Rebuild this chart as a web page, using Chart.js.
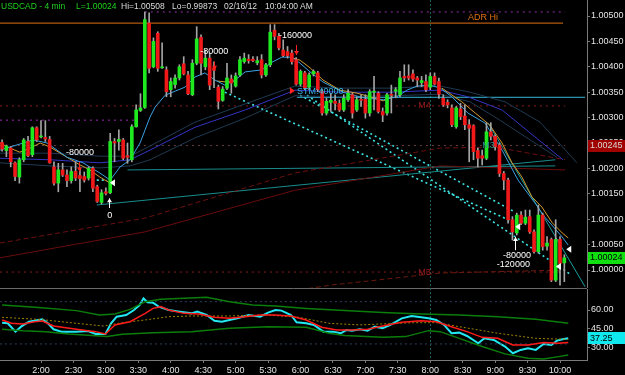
<!DOCTYPE html>
<html>
<head>
<meta charset="utf-8">
<script src="https://cdn.jsdelivr.net/npm/chart.js@4.4.1/dist/chart.umd.min.js"></script>
<style>
  html, body { margin: 0; padding: 0; background: #000; }
  #wrap { position: relative; width: 625px; height: 375px; overflow: hidden; background: #000; }
  canvas { position: absolute; left: 0; }
  #priceCv { top: 0; }
  #oscCv { top: 288px; }
  .hd { position: absolute; top: 1px; font: 8.5px Arial, "Liberation Sans", sans-serif; line-height: 10px;
        color: #dcdcdc; white-space: nowrap; z-index: 2; }
  .hd.g { color: #1fd31f; }
</style>
</head>
<body>
<div id="wrap">
  <canvas id="priceCv" width="625" height="288"></canvas>
  <canvas id="oscCv" width="625" height="87"></canvas>
  <div class="hd g" style="left:1px">USDCAD - 4 min</div>
  <div class="hd g" style="left:76px">L=1.00024</div>
  <div class="hd" style="left:121px">Hi=1.00508</div>
  <div class="hd" style="left:172px">Lo=0.99873</div>
  <div class="hd" style="left:224px">02/16/12</div>
  <div class="hd" style="left:265px">10:04:00 AM</div>
</div>
<script>
// bars are 4 minutes, first one at 1:24
const firstBar = '1:24';
const barMinutes = 4;
const xMin = -0.48, xMax = 135.24;   // visible range in bar units
const timeLabels = ['2:00', '2:30', '3:00', '3:30', '4:00', '4:30', '5:00', '5:30', '6:00',
                    '6:30', '7:00', '7:30', '8:00', '8:30', '9:00', '9:30', '10:00'];
const sessionMark = '8:00';
const priceTicks = [1.00000, 1.00050, 1.00100, 1.00150, 1.00200, 1.00250, 1.00300, 1.00350, 1.00400, 1.00450, 1.00500];
const oscTicks = [30, 45, 60];

const opens = [
  1.00251, 1.00235, 1.00240, 1.00211, 1.00183, 1.00217, 1.00253, 1.00227, 1.00280, 1.00262,
  1.00261, 1.00257, 1.00203, 1.00171, 1.00197, 1.00187, 1.00176, 1.00194, 1.00186, 1.00184,
  1.00181, 1.00200, 1.00164, 1.00133, 1.00154, 1.00152, 1.00253, 1.00253, 1.00256, 1.00225,
  1.00217, 1.00282, 1.00314, 1.00320, 1.00486, 1.00400, 1.00466, 1.00398, 1.00394, 1.00355,
  1.00365, 1.00378, 1.00406, 1.00384, 1.00345, 1.00407, 1.00458, 1.00400, 1.00417, 1.00398,
  1.00360, 1.00334, 1.00358, 1.00376, 1.00362, 1.00384, 1.00410, 1.00415, 1.00415, 1.00408,
  1.00414, 1.00384, 1.00404, 1.00472, 1.00460, 1.00433, 1.00430, 1.00427, 1.00414, 1.00366,
  1.00388, 1.00360, 1.00386, 1.00388, 1.00351, 1.00309, 1.00330, 1.00332, 1.00328, 1.00315,
  1.00335, 1.00345, 1.00315, 1.00336, 1.00336, 1.00309, 1.00350, 1.00348, 1.00312, 1.00309,
  1.00345, 1.00352, 1.00345, 1.00381, 1.00382, 1.00386, 1.00378, 1.00369, 1.00371, 1.00360,
  1.00381, 1.00371, 1.00338, 1.00330, 1.00319, 1.00282, 1.00317, 1.00303, 1.00286, 1.00284,
  1.00235, 1.00225, 1.00220, 1.00272, 1.00263, 1.00246, 1.00190, 1.00177, 1.00099, 1.00073,
  1.00108, 1.00092, 1.00105, 1.00075, 1.00036, 1.00108, 1.00047, 1.00060, 0.99980, 1.00060,
  1.00014];
const highs = [
  1.00256, 1.00246, 1.00243, 1.00213, 1.00221, 1.00259, 1.00263, 1.00282, 1.00282, 1.00294,
  1.00294, 1.00263, 1.00213, 1.00210, 1.00210, 1.00197, 1.00203, 1.00213, 1.00201, 1.00193,
  1.00203, 1.00203, 1.00167, 1.00158, 1.00162, 1.00269, 1.00259, 1.00276, 1.00259, 1.00250,
  1.00286, 1.00325, 1.00347, 1.00508, 1.00506, 1.00457, 1.00469, 1.00447, 1.00400, 1.00378,
  1.00384, 1.00404, 1.00420, 1.00391, 1.00414, 1.00479, 1.00463, 1.00433, 1.00427, 1.00410,
  1.00364, 1.00361, 1.00407, 1.00384, 1.00388, 1.00420, 1.00427, 1.00424, 1.00420, 1.00420,
  1.00424, 1.00407, 1.00483, 1.00483, 1.00466, 1.00453, 1.00440, 1.00433, 1.00418, 1.00394,
  1.00391, 1.00388, 1.00394, 1.00391, 1.00355, 1.00338, 1.00348, 1.00345, 1.00335, 1.00345,
  1.00355, 1.00348, 1.00341, 1.00345, 1.00345, 1.00355, 1.00381, 1.00351, 1.00319, 1.00348,
  1.00364, 1.00359, 1.00391, 1.00404, 1.00404, 1.00394, 1.00381, 1.00381, 1.00384, 1.00388,
  1.00388, 1.00378, 1.00345, 1.00335, 1.00325, 1.00322, 1.00328, 1.00325, 1.00296, 1.00286,
  1.00240, 1.00236, 1.00290, 1.00290, 1.00266, 1.00250, 1.00194, 1.00181, 1.00105, 1.00112,
  1.00115, 1.00118, 1.00118, 1.00079, 1.00128, 1.00112, 1.00066, 1.00063, 1.00099, 1.00066,
  1.00030];
const lows = [
  1.00234, 1.00223, 1.00203, 1.00176, 1.00171, 1.00213, 1.00223, 1.00223, 1.00253, 1.00260,
  1.00253, 1.00210, 1.00167, 1.00154, 1.00184, 1.00164, 1.00171, 1.00176, 1.00154, 1.00173,
  1.00177, 1.00154, 1.00133, 1.00130, 1.00148, 1.00150, 1.00213, 1.00236, 1.00217, 1.00210,
  1.00213, 1.00281, 1.00312, 1.00318, 1.00388, 1.00398, 1.00391, 1.00397, 1.00341, 1.00341,
  1.00358, 1.00374, 1.00384, 1.00345, 1.00343, 1.00404, 1.00384, 1.00394, 1.00355, 1.00359,
  1.00317, 1.00332, 1.00355, 1.00348, 1.00360, 1.00381, 1.00407, 1.00407, 1.00410, 1.00404,
  1.00378, 1.00381, 1.00400, 1.00453, 1.00433, 1.00420, 1.00417, 1.00405, 1.00364, 1.00362,
  1.00355, 1.00355, 1.00382, 1.00351, 1.00305, 1.00305, 1.00312, 1.00315, 1.00312, 1.00312,
  1.00332, 1.00299, 1.00312, 1.00322, 1.00299, 1.00303, 1.00315, 1.00309, 1.00292, 1.00305,
  1.00309, 1.00339, 1.00341, 1.00371, 1.00374, 1.00371, 1.00361, 1.00361, 1.00351, 1.00355,
  1.00364, 1.00338, 1.00322, 1.00319, 1.00282, 1.00279, 1.00296, 1.00276, 1.00213, 1.00217,
  1.00203, 1.00207, 1.00217, 1.00256, 1.00236, 1.00184, 1.00158, 1.00092, 1.00059, 1.00069,
  1.00089, 1.00089, 1.00072, 1.00033, 1.00033, 1.00039, 1.00039, 0.99977, 0.99977, 0.99970,
  0.99977];
const closes = [
  1.00238, 1.00244, 1.00213, 1.00184, 1.00217, 1.00256, 1.00225, 1.00280, 1.00256, 1.00263,
  1.00258, 1.00211, 1.00171, 1.00197, 1.00187, 1.00176, 1.00194, 1.00181, 1.00180, 1.00177,
  1.00200, 1.00161, 1.00135, 1.00152, 1.00151, 1.00253, 1.00250, 1.00257, 1.00220, 1.00222,
  1.00282, 1.00315, 1.00319, 1.00493, 1.00397, 1.00450, 1.00397, 1.00400, 1.00351, 1.00371,
  1.00378, 1.00400, 1.00386, 1.00347, 1.00407, 1.00455, 1.00407, 1.00417, 1.00364, 1.00393,
  1.00332, 1.00356, 1.00378, 1.00368, 1.00382, 1.00414, 1.00417, 1.00412, 1.00412, 1.00412,
  1.00384, 1.00404, 1.00468, 1.00460, 1.00437, 1.00422, 1.00422, 1.00410, 1.00366, 1.00391,
  1.00358, 1.00384, 1.00391, 1.00355, 1.00309, 1.00332, 1.00334, 1.00328, 1.00315, 1.00338,
  1.00348, 1.00309, 1.00335, 1.00334, 1.00309, 1.00351, 1.00351, 1.00312, 1.00305, 1.00345,
  1.00344, 1.00355, 1.00378, 1.00378, 1.00378, 1.00376, 1.00374, 1.00373, 1.00355, 1.00381,
  1.00366, 1.00346, 1.00325, 1.00325, 1.00286, 1.00319, 1.00302, 1.00286, 1.00279, 1.00233,
  1.00220, 1.00220, 1.00272, 1.00263, 1.00243, 1.00190, 1.00177, 1.00099, 1.00075, 1.00108,
  1.00092, 1.00104, 1.00075, 1.00036, 1.00108, 1.00046, 1.00053, 0.99980, 1.00060, 1.00013,
  1.00024];

// overlay lines, [bar, price]
const lightBlueMA = [[-0.5,1.00236],[7.2,1.00256],[10.4,1.00250],[15,1.00222],[18.7,1.00211],[22.6,1.00191],
  [25,1.00177],[27.3,1.00203],[29.6,1.00217],[31.9,1.00250],[34.2,1.00301],[35.4,1.00321],[37.7,1.00344],
  [42.3,1.00360],[44.6,1.00380],[46.9,1.00388],[49.2,1.00374],[51.5,1.00364],[53.9,1.00374],[56.2,1.00390],
  [60.1,1.00394],[62.4,1.00409],[64.7,1.00419],[67,1.00419],[68.9,1.00407],[71.2,1.00390],[74.2,1.00370],
  [78.8,1.00350],[83.5,1.00339],[88.1,1.00335],[91.3,1.00341],[93.6,1.00354],[95.9,1.00362],[98.9,1.00364],
  [101.3,1.00358],[104,1.00341],[107.7,1.00309],[111.7,1.00289],[115.6,1.00236],[119.3,1.00177],
  [123.2,1.00132],[125.5,1.00104],[129.5,1.00065],[130.9,1.00049]];
const orangeMA = [[-0.5,1.00250],[1.8,1.00240],[4.1,1.00232],[6.5,1.00240],[8.8,1.00250],[11.1,1.00242],
  [15,1.00222],[18,1.00207],[20.3,1.00197],[22.6,1.00183],[25,1.00171],[25.1,null],
  [49.7,1.00372],[52,1.00370],[53.9,1.00372],[54,null],
  [66.6,1.00419],[68.9,1.00413],[71.2,1.00398],[74.2,1.00374],[78.1,1.00354],[82.1,1.00348],[85.1,1.00341],
  [88.1,1.00333],[90.4,1.00341],[90.5,null],
  [101.7,1.00358],[106.3,1.00331],[109.4,1.00309],[112.8,1.00285],[115.6,1.00250],[117.9,1.00211],
  [120.2,1.00183],[122.5,1.00144],[124.8,1.00124],[127.2,1.00093],[129.5,1.00073],[130.9,1.00063]];
const blueMid = [[-0.5,1.00220],[11.1,1.00217],[22.6,1.00211],[29.6,1.00217],[34.2,1.00236],[44.6,1.00281],
  [56.2,1.00315],[67.7,1.00354],[78.1,1.00350],[89.7,1.00350],[101.3,1.00354],[107.7,1.00341],[115.6,1.00315],
  [123.2,1.00262],[129.7,1.00217]];
const blueUpper = [[-0.5,1.00230],[11.1,1.00230],[22.6,1.00224],[29.6,1.00224],[34.2,1.00244],[44.6,1.00291],
  [56.2,1.00327],[67.7,1.00362],[78.1,1.00358],[89.7,1.00358],[101.3,1.00362],[108.2,1.00350],[116.3,1.00331],
  [124.4,1.00291],[132.9,1.00211]];
const blueLower = [[-0.5,1.00211],[11.1,1.00205],[22.6,1.00201],[29.6,1.00205],[34.2,1.00217],[44.6,1.00260],
  [56.2,1.00299],[67.7,1.00343],[78.1,1.00341],[89.7,1.00343],[101.3,1.00346],[108.2,1.00331],[115.1,1.00295],
  [122.1,1.00256],[128.3,1.00222]];
const redCurveA = [[-0.5,1.00053],[33,1.00102],[67.7,1.00191],[101.3,1.00240],[114,1.00242],[130.2,1.00217]];
const redCurveB = [[-0.5,1.00024],[33,1.00075],[67.7,1.00157],[101.3,1.00205],[130.2,1.00197]];
const redCurveC = [[68.9,0.99961],[75.8,0.99970],[101.3,0.99994],[130.2,1.00000]];
const tealFlat = [[29,1.00197],[127.9,1.00205]];
const tealRise = [[21.9,1.00128],[127.9,1.00217]];
const tealTrend = [[112.4,1.00289],[134.8,0.99967]];
const stmLine = [[68.2,1.00340],[134.8,1.00340]];
const cyanDotA = [[51.5,1.00350],[118.6,1.00093]];
const cyanDotB = [[68.9,1.00344],[118.6,1.00114]];
const cyanDotC = [[70.5,1.00344],[131.3,0.99992]];
const cyanDotD = [[21.9,1.00177],[24.3,1.00177]];
const adrHi = [[-0.5,1.00486],[129.7,1.00486]];
const dayHigh = [[33,1.00508],[130.2,1.00508]];
const purpleLevel = [[-0.5,1.00295],[31.2,1.00295]];
const m4Level = [[-0.5,1.00323],[130.2,1.00323]];
const midLevel = [[-0.5,1.00245],[130.2,1.00245]];
const m3Level = [[-0.5,0.99996],[130.2,0.99996]];

// text notes: [bar, price, text, colour]
const notes = [
  [14.8, 1.00232, '-80000', '#ffffff'],
  [45.8, 1.00430, '-80000', '#ffffff'],
  [64.0, 1.00462, '-160000', '#ffffff'],
  [68.2, 1.00351, 'STM:40000', '#38b8e0'],
  [24.3, 1.00108, '0', '#ffffff'],
  [115.8, 1.00028, '-80000', '#ffffff'],
  [114.4, 1.00010, '-120000', '#ffffff'],
  [107.7, 1.00498, 'ADR Hi', '#e07010'],
  [96.2, 1.00323, 'M4', '#9a1c1c'],
  [96.2, 0.99996, 'M3', '#9a1c1c'],
  [111.0, 1.00246, 'M3', '#2a9090']
];
const upArrows = [[24.8, 1.00122, 1.00141], [118.6, 1.00039, 1.00065]];
const downArrows = [[17.9, 1.00213, 1.00194], [48.9, 1.00410, 1.00394], [67.9, 1.00443, 1.00423]];
const leftMarks = [[25.4, 1.00172], [130.9, 1.00041], [119.1, 1.00085], [128.5, 1.00007]];
const rightMarks = [[67, 1.00353]];
const priceFlags = [[1.00245, '#a00000', '#d8d8d8'], [1.00024, '#10e010', '#000000']];

// oscillator panel, [bar, value]
const oscMain = [[0,49.8],[1.3,49.3],[3.1,42.6],[4.4,46.6],[6.2,50.6],[9.3,52.5],[10.6,49.3],[11.9,44.5],
  [13.7,42.6],[17.2,42.6],[19.9,43.1],[21.6,40.7],[23.9,40.7],[25.2,49.3],[26.5,54.6],[28.7,56],[30.5,60],
  [31.8,64],[32.7,69.4],[33.6,66.2],[34.9,65.9],[36.2,62.7],[38.5,60],[41.1,58.7],[43.8,57.3],[45.1,58.7],
  [47.3,56],[49.1,51.4],[50.8,50.6],[54.4,53.3],[57,56],[59.7,54.6],[61.5,57.9],[63.2,60],[64.6,59.5],
  [66.8,56],[68.1,50.1],[70.3,49.3],[72.1,48],[74.3,42.6],[76.5,42.6],[78.3,41.3],[79.6,43.9],[80.9,43.4],
  [82.7,44.5],[84.5,43.4],[86.2,46.6],[88,45.3],[89.8,48],[92.4,53.3],[94.7,55.2],[96.9,54.1],[98.6,53.3],
  [100.4,52],[102.2,48],[103.9,41.3],[105.7,41.8],[107.5,39.1],[110.1,33.2],[111.5,37.2],[113.7,35.9],
  [116.3,30.6],[118.1,25.2],[119.9,27.9],[121.6,29.2],[123.4,27.9],[125.2,32.7],[127,31.9],[128.3,35.4],
  [129.6,36.4],[130.9,37.25]];
const oscSignal = [[0,52],[2.2,49.3],[4.8,48.8],[7.5,50.6],[9.3,51.2],[11.9,47.1],[17.2,44.5],[21.6,42.6],
  [23.9,40.7],[26.1,48],[29.6,50.6],[33.1,57.3],[34.9,61.3],[36.7,62.7],[38.5,60],[42,57.3],[45.5,56.8],
  [49.1,54.1],[52.6,53.3],[56.2,54.6],[59.7,56],[63.2,56],[66.8,55.2],[70.3,52],[73.9,46.1],[77.4,43.9],
  [80.9,43.9],[84.5,44.5],[88,47.1],[92.4,50.1],[96.9,51.4],[100.4,50.6],[103.9,46.6],[107.5,42.6],[111,38],
  [114.6,37.2],[118.1,31.9],[121.6,31.9],[125.2,33.8],[128.7,33.2],[130.9,33.8]];
const oscUpper = [[0,64],[8.4,62.1],[17.2,59.5],[22.5,56],[26.1,56.8],[29.6,60.5],[33.1,66.7],[36.7,68.6],
  [42,69.4],[47.3,70.2],[52.6,66.7],[57.9,64],[63.2,63.2],[70.3,61.3],[79.2,59.5],[88,57.9],[96.9,56.8],
  [105.7,56],[114.6,54.6],[123.4,52.5],[130.9,49.3]];
const oscLower = [[0,44.5],[4.8,43.4],[10.1,42.6],[15.4,40.7],[19,39.9],[24.3,38.6],[27.8,40.5],[34.9,41.8],
  [43.8,42.6],[52.6,45.3],[61.5,46.6],[70.3,46.1],[75.6,41.3],[79.2,39.4],[88,38],[93.3,38.6],[98.6,43.4],
  [101.3,42.6],[105.7,37.2],[111,30.6],[116.3,24.7],[121.6,21.2],[125.2,20.6],[128.7,22.5],[130.9,23.8]];
const oscSlow = [[0,54.1],[8.4,52.5],[17.2,49.3],[23.4,47.1],[27.8,49.8],[33.1,52],[38.5,54.6],[43.8,55.2],
  [52.6,55.2],[61.5,56],[68.6,54.1],[75.6,49.3],[82.7,48],[88,48.8],[95.1,49.8],[100.4,49.8],[105.7,46.6],
  [114.6,41.3],[123.4,37.2],[130.9,36.4]];
const oscLevelHi = [[-0.5,66.7],[130.9,66.7]];
const oscLevelLo = [[-0.5,32.7],[130.9,32.7]];

const FONT = 'Arial, "Liberation Sans", sans-serif';
Chart.defaults.font.family = FONT;
Chart.defaults.font.size = 9;
Chart.defaults.color = '#e4e4e4';

const toMin = t => { const [h, m] = t.split(':').map(Number); return h * 60 + m; };
const barOf = t => (toMin(t) - toMin(firstBar)) / barMinutes;
const tickBars = timeLabels.map(barOf);

function lineSet(points, color, width, dash, order) {
    return {
        type: 'line',
        data: points.map(([x, y]) => ({ x, y })),
        borderColor: color,
        borderWidth: width,
        borderDash: dash || [],
        pointRadius: 0,
        fill: false,
        tension: 0,
        spanGaps: false,
        order: order || 5,
    };
}

const bars = opens.map((o, i) => i);
const bodyColors = bars.map(i => closes[i] >= opens[i] ? '#1ee81e' : '#f01818');

function vMark(chart) {
    const { ctx, chartArea, scales: { x } } = chart;
    const px = Math.round(x.getPixelForValue(barOf(sessionMark))) + 0.5;
    ctx.save();
    ctx.strokeStyle = '#1d5e5e';
    ctx.lineWidth = 1;
    ctx.setLineDash([2, 2]);
    ctx.beginPath();
    ctx.moveTo(px, 0);
    ctx.lineTo(px, chartArea.bottom);
    ctx.stroke();
    ctx.restore();
}

function flag(ctx, left, yy, text, bg, fg) {
    ctx.fillStyle = bg;
    ctx.fillRect(left + 1, Math.round(yy) - 6, 37, 12);
    ctx.fillStyle = fg;
    ctx.textAlign = 'left';
    ctx.textBaseline = 'middle';
    ctx.fillText(text, left + 3, yy);
}

const priceOverlay = {
    id: 'priceOverlay',
    beforeDatasetsDraw(chart) { vMark(chart); },
    afterDraw(chart) {
        const { ctx, chartArea, scales: { x, y } } = chart;
        ctx.save();
        ctx.font = '9px ' + FONT;
        ctx.textAlign = 'left';
        ctx.textBaseline = 'middle';
        notes.forEach(([b, p, t, c]) => {
            ctx.fillStyle = c;
            ctx.fillText(t, x.getPixelForValue(b), y.getPixelForValue(p));
        });
        // arrows
        const arrow = (b, p0, p1, color) => {
            const X = Math.round(x.getPixelForValue(b)) + 0.5;
            const y0 = y.getPixelForValue(p0), y1 = y.getPixelForValue(p1);
            const dir = y1 < y0 ? 1 : -1;
            ctx.strokeStyle = color; ctx.fillStyle = color; ctx.lineWidth = 1;
            ctx.beginPath(); ctx.moveTo(X, y0); ctx.lineTo(X, y1); ctx.stroke();
            ctx.beginPath(); ctx.moveTo(X, y1); ctx.lineTo(X - 2.5, y1 + 4 * dir); ctx.lineTo(X + 2.5, y1 + 4 * dir);
            ctx.closePath(); ctx.fill();
        };
        upArrows.forEach(([b, p0, p1]) => arrow(b, p0, p1, '#ffffff'));
        downArrows.forEach(([b, p0, p1]) => arrow(b, p0, p1, '#ff2020'));
        ctx.fillStyle = '#ffffff';
        leftMarks.forEach(([b, p]) => {
            const X = x.getPixelForValue(b), Y = y.getPixelForValue(p);
            ctx.beginPath(); ctx.moveTo(X - 2, Y); ctx.lineTo(X + 3, Y - 3.5); ctx.lineTo(X + 3, Y + 3.5);
            ctx.closePath(); ctx.fill();
        });
        ctx.fillStyle = '#ff2020';
        rightMarks.forEach(([b, p]) => {
            const X = x.getPixelForValue(b), Y = y.getPixelForValue(p);
            ctx.beginPath(); ctx.moveTo(X + 3, Y); ctx.lineTo(X - 2, Y - 3.5); ctx.lineTo(X - 2, Y + 3.5);
            ctx.closePath(); ctx.fill();
        });
        priceFlags.forEach(([p, bg, fg]) => flag(ctx, chartArea.right, y.getPixelForValue(p), p.toFixed(5), bg, fg));
        ctx.restore();
    }
};

const oscOverlay = {
    id: 'oscOverlay',
    beforeDatasetsDraw(chart) {
        const { ctx, chartArea } = chart;
        ctx.save();
        ctx.strokeStyle = '#6a6a6a';
        ctx.lineWidth = 1;
        ctx.beginPath();
        ctx.moveTo(0, 0.5);
        ctx.lineTo(chartArea.right, 0.5);
        ctx.stroke();
        ctx.restore();
        vMark(chart);
    },
    afterDraw(chart) {
        const { ctx, chartArea, scales: { y } } = chart;
        const last = oscMain[oscMain.length - 1][1];
        ctx.save();
        ctx.font = '9px ' + FONT;
        flag(ctx, chartArea.right, y.getPixelForValue(last), last.toFixed(2), '#10e8f0', '#000000');
        ctx.restore();
    }
};

const yAxisCommon = {
    position: 'right',
    grid: { drawOnChartArea: false, drawTicks: true, tickLength: 3, color: '#7a7a7a' },
    border: { display: true, color: '#7a7a7a' },
};

new Chart(document.getElementById('priceCv'), {
    type: 'bar',
    data: {
        datasets: [
            {
                type: 'bar',
                data: bars.map(i => ({ x: i, y: [Math.min(opens[i], closes[i]), Math.max(opens[i], closes[i])] })),
                backgroundColor: bodyColors,
                barThickness: 3,
                minBarLength: 1,
                grouped: false,
                order: 0,
            },
            {
                type: 'bar',
                data: bars.map(i => ({ x: i, y: [lows[i], highs[i]] })),
                backgroundColor: '#a4a4a4',
                barThickness: 1,
                grouped: false,
                order: 1,
            },
            lineSet(lightBlueMA, '#3aa2e2', 1, null, 2),
            lineSet(orangeMA, '#d49a2c', 1, null, 2),
            lineSet(blueMid, '#3434c4', 1, null, 3),
            lineSet(blueUpper, '#1f3a52', 1, null, 3),
            lineSet(blueLower, '#1f3a52', 1, null, 3),
            lineSet(redCurveA, '#6e1010', 1, [5, 3], 4),
            lineSet(redCurveB, '#6a0c0c', 1, null, 4),
            lineSet(redCurveC, '#6a1a0c', 1, [5, 3], 4),
            lineSet(tealFlat, '#1a8c8c', 1, null, 4),
            lineSet(tealRise, '#1a8c8c', 1, null, 4),
            lineSet(tealTrend, '#1aa0a0', 1, null, 4),
            lineSet(stmLine, '#34b8da', 1, null, 4),
            lineSet(cyanDotA, '#3ee4e4', 1.6, [2, 3], 4),
            lineSet(cyanDotB, '#3ee4e4', 1.6, [2, 3], 4),
            lineSet(cyanDotC, '#3ee4e4', 1.6, [2, 3], 4),
            lineSet(cyanDotD, '#3ee4e4', 1.6, [2, 3], 4),
            lineSet(adrHi, '#e07010', 1, null, 4),
            lineSet(dayHigh, '#9030a8', 1, [2, 4], 4),
            lineSet(purpleLevel, '#a028b8', 1, [2, 4], 4),
            lineSet(m4Level, '#8e1c1c', 1, [2, 4], 4),
            lineSet(midLevel, '#6a3c3c', 1, [2, 4], 4),
            lineSet(m3Level, '#8e1c1c', 1, [2, 4], 4),
        ]
    },
    options: {
        responsive: false,
        animation: false,
        events: [],
        layout: { padding: 0 },
        plugins: { legend: { display: false }, tooltip: { enabled: false } },
        scales: {
            x: { type: 'linear', min: xMin, max: xMax, offset: false, display: false },
            y: {
                ...yAxisCommon,
                min: 0.9996457,
                max: 1.0053150,
                afterBuildTicks(s) { s.ticks = priceTicks.map(v => ({ value: v })); },
                afterFit(s) { s.width = 38; s.paddingTop = 0; s.paddingBottom = 0; },
                ticks: { padding: 1, color: '#e4e4e4', callback: v => Number(v).toFixed(5) },
            }
        }
    },
    plugins: [priceOverlay]
});

new Chart(document.getElementById('oscCv'), {
    type: 'line',
    data: {
        datasets: [
            lineSet(oscMain, '#22e8f2', 2, null, 0),
            lineSet(oscSignal, '#ff1a1a', 1.5, null, 1),
            lineSet(oscUpper, '#0b7d0b', 1.5, null, 2),
            lineSet(oscLower, '#0b7d0b', 1.5, null, 2),
            lineSet(oscSlow, '#a08000', 1, [2, 2], 2),
            lineSet(oscLevelHi, '#2e3f62', 1, [2, 3], 3),
            lineSet(oscLevelLo, '#2e3f62', 1, [2, 3], 3),
        ]
    },
    options: {
        responsive: false,
        animation: false,
        events: [],
        layout: { padding: { top: 1, left: 0, right: 0, bottom: 0 } },
        plugins: { legend: { display: false }, tooltip: { enabled: false } },
        scales: {
            x: {
                type: 'linear', min: xMin, max: xMax, offset: false,
                afterBuildTicks(s) { s.ticks = tickBars.map(v => ({ value: v })); },
                afterFit(s) { s.height = 15; s.paddingLeft = 0; s.paddingRight = 0; },
                ticks: { autoSkip: false, maxRotation: 0, padding: 2, color: '#e4e4e4',
                         callback: (v, i) => timeLabels[i] },
                grid: { drawOnChartArea: false, drawTicks: true, tickLength: 3, color: '#7a7a7a' },
                border: { display: true, color: '#7a7a7a' },
            },
            y: {
                ...yAxisCommon,
                min: 19.79,
                max: 76.89,
                afterBuildTicks(s) { s.ticks = oscTicks.map(v => ({ value: v })); },
                afterFit(s) { s.width = 38; s.paddingTop = 0; s.paddingBottom = 0; },
                ticks: { padding: 1, color: '#e4e4e4', callback: v => Number(v).toFixed(2) },
            }
        }
    },
    plugins: [oscOverlay]
});
</script>
</body>
</html>
